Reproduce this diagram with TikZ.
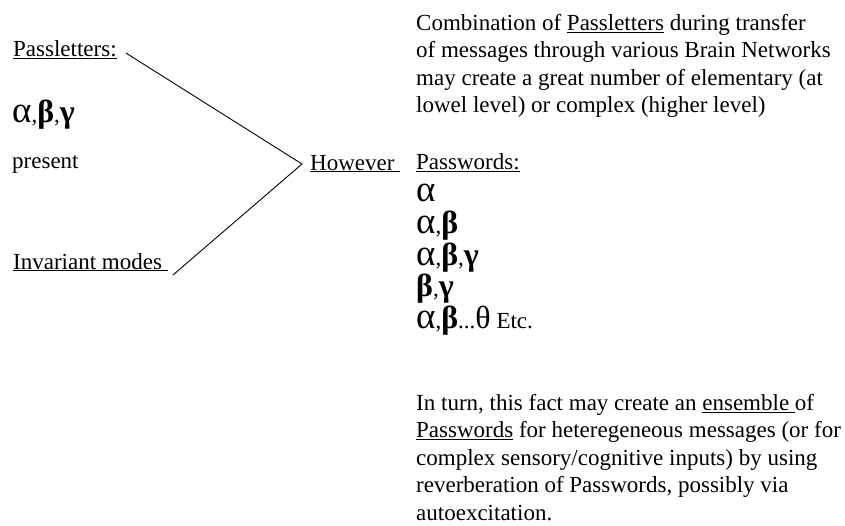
\documentclass[tikz,border=0pt]{standalone}
\usepackage{fontspec}
\setmainfont{Liberation Serif}
\usepackage{tikz}
\usetikzlibrary{positioning}

% greek passletters
\newcommand{\pla}{{\fontsize{37}{37}\selectfont α}}
\newcommand{\plb}{{\fontsize{32}{32}\selectfont\bfseries β}}
\newcommand{\plc}{{\fontsize{32}{32}\selectfont\bfseries γ}}
\newcommand{\plth}{{\fontsize{32}{32}\selectfont θ}}
\newcommand{\tightrows}{\setlength{\lineskiplimit}{-40pt}}

\begin{document}
\begin{tikzpicture}[
    x=1pt, y=-1pt,
    txt/.style={anchor=base west, inner sep=0pt, font=\fontsize{23}{27.5}\selectfont},
    para/.style={txt, align=left, anchor=north west},
    list/.style={para, font=\fontsize{23}{31.8}\selectfont\tightrows},
    link/.style={line width=0.9pt}
]
\useasboundingbox (0,0) rectangle (845,525);

% left column
\node[txt] (pletters) at (13,56) {\underline{Passletters:}};
\node[txt] (greek) at (12,122) {\pla,\plb,\plc};
\node[txt] (present) at (12,168) {present};
\node[txt] (invariant) at (13,269) {\underline{Invariant modes\ }};

% middle
\node[txt] (however) at (310,170) {\underline{However\ }};

% right column
\node[para] (combi) at (416,14) {Combination of \underline{Passletters} during transfer\\
of messages through various Brain Networks\\
may create a great number of elementary (at\\
lowel level) or complex (higher level)};
\node[list] (pwords) at (416,153.5) {\underline{Passwords:}\\
\pla\\
\pla,\plb\\
\pla,\plb,\plc\\
\plb,\plc\\
\pla,\plb...\plth\ Etc.};
\node[para] (inturn) at (416,394) {In turn, this fact may create an \underline{ensemble\ }of\\
\underline{Passwords} for heteregeneous messages (or for\\
complex sensory/cognitive inputs) by using\\
reverberation of Passwords, possibly via\\
autoexcitation.};

% fork lines
\coordinate (fork) at ([xshift=-8pt,yshift=6pt]however.base west);
\coordinate (upend) at ([xshift=9pt,yshift=3pt]pletters.base east);
\coordinate (lowend) at ([xshift=5pt,yshift=-6pt]invariant.base east);
\draw[link] (upend) -- (fork) -- (lowend);

\end{tikzpicture}
\end{document}
